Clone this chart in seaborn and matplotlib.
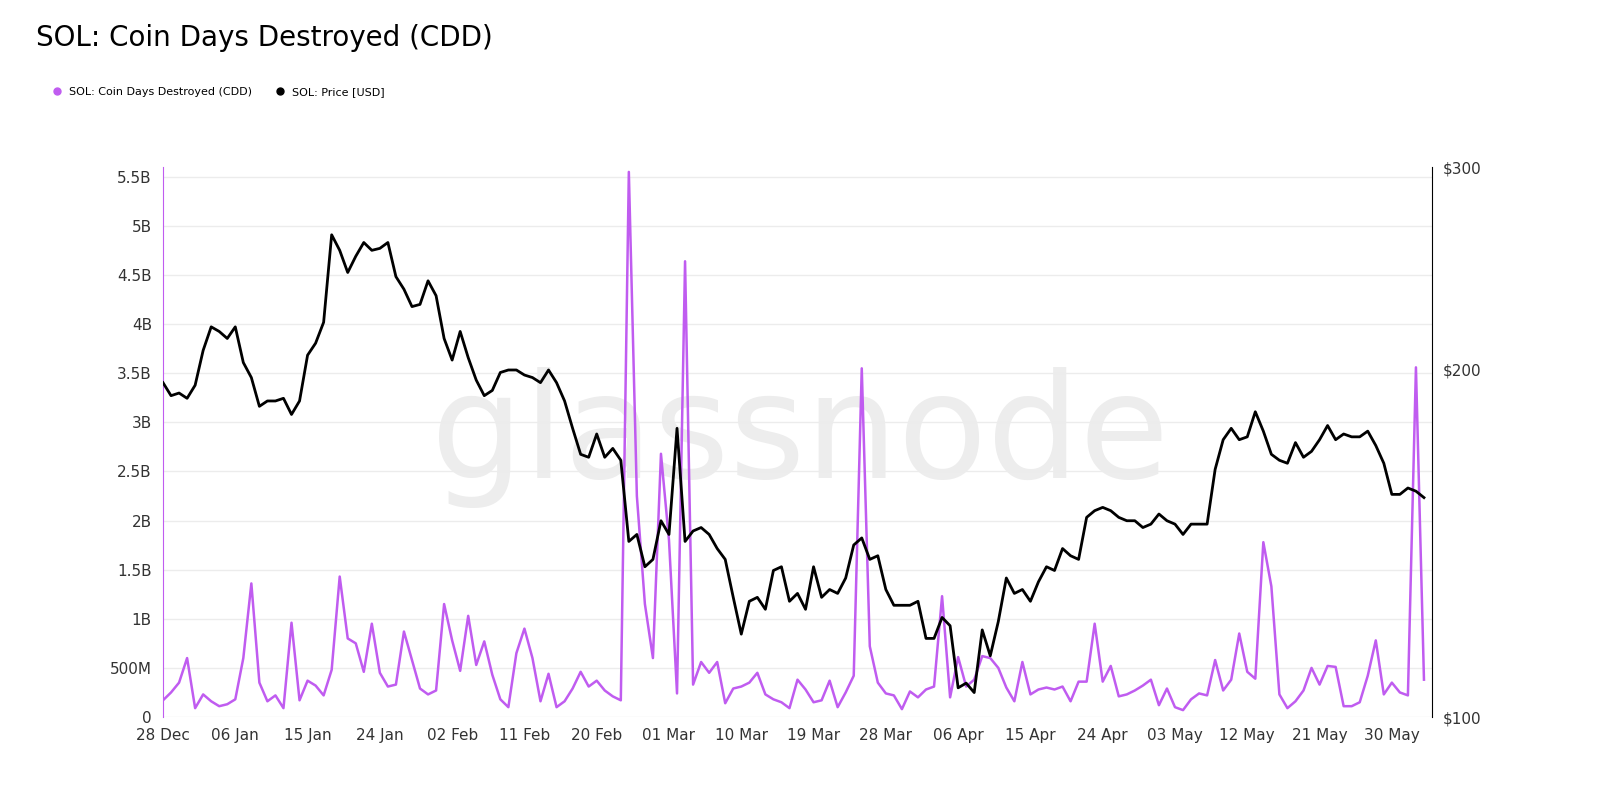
import numpy as np
import pandas as pd
import matplotlib
matplotlib.use("Agg")
import matplotlib.pyplot as plt
import matplotlib.dates as mdates
import matplotlib.ticker as mticker
from matplotlib.lines import Line2D
import seaborn as sns

dates = pd.date_range("2024-12-28", "2025-06-03", freq="D")
price = [195,190,191,189,194,208,218,216,213,218,203,197,186,188,188,189,183,188,206,211,
         220,262,254,243,251,258,254,255,258,241,235,227,228,239,232,213,204,216,205,196,
         190,192,199,200,200,198,197,195,200,195,188,178,169,168,176,168,171,167,142,144,
         135,137,148,144,178,142,145,146,144,140,137,127,118,126,127,124,134,135,126,128,
         124,135,127,129,128,132,141,143,137,138,129,125,125,125,126,117,117,122,120,106,
         107,105,119,113,121,132,128,129,126,131,135,134,140,138,137,149,151,152,151,149,
         148,148,146,147,150,148,147,144,147,147,147,164,174,178,174,175,184,177,169,167,
         166,173,168,170,174,179,174,176,175,175,177,172,166,156,156,158,157,155]
cdd_m = [170,250,350,600,90,230,160,110,130,180,600,1360,350,160,220,90,960,170,370,320,
         220,480,1430,800,750,460,950,450,310,330,870,580,290,230,270,1150,780,470,1030,530,
         770,430,180,100,650,900,600,160,440,100,160,290,460,310,370,270,210,170,5550,2250,
         1150,600,2680,1800,240,4640,330,560,450,560,140,290,310,350,450,230,180,150,90,380,
         280,150,170,370,100,250,420,3550,720,350,240,220,80,260,200,280,310,1230,200,610,
         310,380,620,600,500,300,160,560,230,280,300,280,310,160,360,360,950,360,520,210,
         230,270,320,380,120,290,100,70,180,240,220,580,270,380,850,460,390,1780,1330,230,
         90,160,270,500,330,520,510,110,110,150,420,780,230,350,250,220,3560,380]

df = pd.DataFrame({"date": dates, "price": price, "cdd": np.array(cdd_m) * 1e6})

purple = "#c05cf0"
fig = plt.figure(figsize=(16, 8.07), dpi=100)
fig.text(800/1600, 1-437/807, "glassnode", ha="center", va="center", fontsize=105,
         color="#ededed", zorder=-5, fontweight="medium")
ax = fig.add_axes([163/1600, 1-717/807, (1432-163)/1600, (717-167)/807])
ax.patch.set_alpha(0)
ax2 = ax.twinx()
ax2.patch.set_alpha(0)
sns.lineplot(data=df, x="date", y="cdd", ax=ax, color=purple, lw=1.8)
sns.lineplot(data=df, x="date", y="price", ax=ax2, color="black", lw=2)

ax.set_ylim(0, 5.6e9)
ax.set_yticks(np.arange(0, 5.51e9, 0.5e9))
def fmt(v, p):
    if v == 0: return "0"
    if v < 1e9: return f"{int(v/1e6)}M"
    return f"{v/1e9:g}B"
ax.yaxis.set_major_formatter(mticker.FuncFormatter(fmt))
ax2.set_yscale("log")
ax2.set_ylim(100, 300)
ax2.set_yticks([100, 200, 300])
ax2.yaxis.set_minor_locator(mticker.NullLocator())
ax2.yaxis.set_major_formatter(mticker.FuncFormatter(lambda v, p: f"${int(v)}"))

ax.set_xlim(pd.Timestamp("2024-12-28"), pd.Timestamp("2025-06-04"))
ticks = pd.date_range("2024-12-28", "2025-06-03", freq="9D")
ax.set_xticks(ticks)
ax.xaxis.set_major_formatter(mdates.DateFormatter("%d %b"))

for a in (ax, ax2):
    a.set_xlabel(""); a.set_ylabel("")
    a.tick_params(length=0, labelsize=11, colors="#333333", pad=8)
    for s in ("top", "bottom"):
        a.spines[s].set_visible(False)
ax.spines["right"].set_visible(False)
ax.spines["left"].set_color(purple)
ax2.spines["left"].set_visible(False)
ax2.spines["right"].set_color("black")
ax.grid(axis="y", color="#ececec", lw=1)
ax.set_axisbelow(True)

fig.text(36/1600, 1-38/807, "SOL: Coin Days Destroyed (CDD)", fontsize=20, va="center")
handles = [Line2D([], [], marker="o", ls="", color=purple, ms=5),
           Line2D([], [], marker="o", ls="", color="black", ms=5)]
fig.legend(handles, ["SOL: Coin Days Destroyed (CDD)", "SOL: Price [USD]"],
           loc="center left", bbox_to_anchor=(36/1600, 1-92/807), ncol=2, frameon=False,
           fontsize=8, handletextpad=0.1, columnspacing=1.5)
fig.savefig("out.png", dpi=100)
